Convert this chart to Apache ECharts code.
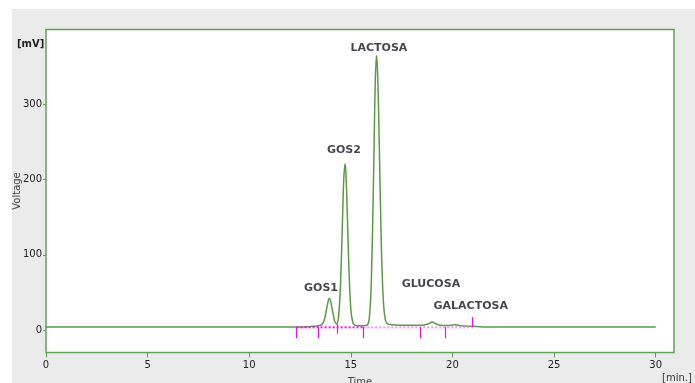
<!DOCTYPE html>
<html>
<head>
<meta charset="utf-8">
<script src="https://cdn.jsdelivr.net/npm/echarts@6/dist/echarts.min.js"></script>
<style>
  html, body { margin: 0; padding: 0; background: #fff; }
  #panel { position: absolute; left: 12px; top: 9px; width: 683px; height: 374px; background: #ebebeb; }
  #chart { position: absolute; left: 0; top: 0; width: 695px; height: 383px; }
</style>
</head>
<body>
<div id="panel"></div>
<div id="chart"></div>
<script>
// chromatogram trace (min, mV)
var times = [0, 12.3, 12.9, 13.2, 13.4, 13.5, 13.6, 13.7, 13.8, 13.9, 13.94, 14.0, 14.1, 14.2, 14.3,
    14.4, 14.5, 14.6, 14.65, 14.71, 14.75, 14.8, 14.9, 15.0, 15.1, 15.2, 15.4, 15.6, 15.8, 15.9,
    16.0, 16.1, 16.15, 16.2, 16.26, 16.3, 16.35, 16.4, 16.5, 16.6, 16.7, 16.8, 17.0, 17.4, 18.5,
    18.8, 19.0, 19.2, 19.4, 19.8, 20.1, 20.4, 21.0, 21.5, 30]
var volts = [4, 4, 4.3, 5, 5.6, 6.2, 8, 14, 27, 40, 42, 39, 25, 12, 8,
    19, 66, 158, 200, 221, 212, 178, 85, 27, 10, 6.5, 5.6, 5.6, 6.4, 14,
    58, 178, 258, 330, 365, 353, 310, 245, 112, 38, 13, 8.5, 6.8, 6.2, 6.2,
    8, 10.5, 8, 6.2, 5.8, 6.8, 5.6, 4.8, 4, 4]

// integration baseline and peak markers
var baseTimes = [12.33, 15.61, 20.99]
var baseLevel = 3.5
var tickTimes = [12.33, 13.39, 14.33, 15.61, 18.43, 19.66, 20.99]
var tickLo = [-11, -11, -5, -11, -11, -11, 4]
var tickHi = [4, 4, 8, 4, 4, 4, 17]

// peak names
var peakNames = ['GOS1', 'GOS2', 'LACTOSA', 'GLUCOSA', 'GALACTOSA']
var peakLabelX = [13.53, 14.66, 16.38, 18.94, 20.9]
var peakLabelY = [56, 239, 375, 61, 32]

var xTicks = [0, 5, 10, 15, 20, 25, 30]
var yTicks = [0, 100, 200, 300]

var chart = echarts.init(document.getElementById('chart'))

var tickPairs = tickTimes.map(function(t, i) {
    return [{ coord: [t, tickLo[i]] }, { coord: [t, tickHi[i]] }]
})

chart.setOption({
    animation: false,
    backgroundColor: 'transparent',
    textStyle: { fontFamily: 'DejaVu Sans' },
    grid: {
        left: 46, top: 29.5, right: 21, bottom: 30.5,
        outerBoundsMode: 'none',
        containLabel: false,
        show: true,
        backgroundColor: '#fff',
        borderColor: '#5fa352',
        borderWidth: 1.5
    },
    xAxis: {
        type: 'value',
        min: 0,
        max: 30.9,
        name: 'Time',
        nameLocation: 'middle',
        nameGap: 25,
        nameMoveOverlap: false,
        nameTextStyle: { color: '#444', fontSize: 10, verticalAlign: 'top' },
        axisLine: { show: false, onZero: false },
        splitLine: { show: false },
        axisTick: { show: true, length: 5, lineStyle: { color: '#5fa352' }, customValues: xTicks },
        axisLabel: { color: '#222', fontSize: 10, margin: 8, customValues: xTicks }
    },
    yAxis: {
        type: 'value',
        min: -30,
        max: 400,
        name: 'Voltage',
        nameLocation: 'middle',
        nameGap: 24,
        nameMoveOverlap: false,
        nameTextStyle: { color: '#444', fontSize: 10 },
        axisLine: { show: false, onZero: false },
        splitLine: { show: false },
        axisTick: { show: true, length: 3, lineStyle: { color: '#5fa352' }, customValues: yTicks },
        axisLabel: { color: '#222', fontSize: 10, margin: 4, customValues: yTicks }
    },
    graphic: [
        { type: 'text', left: 17, top: 39, style: { text: '[mV]', fontSize: 10, fontWeight: 'bold', fill: '#222', fontFamily: 'DejaVu Sans' } },
        { type: 'text', left: 662, top: 373, style: { text: '[min.]', fontSize: 10, fill: '#333', fontFamily: 'DejaVu Sans' } }
    ],
    series: [
        {
            type: 'line',
            data: times.map(function(t, i) { return [t, volts[i]] }),
            showSymbol: false,
            smooth: 0.3,
            lineStyle: { color: '#5a9a45', width: 1.5 },
            z: 3
        },
        {
            type: 'line',
            data: [[baseTimes[0], baseLevel], [baseTimes[1], baseLevel]],
            showSymbol: false,
            lineStyle: { color: '#ff00ff', width: 2, type: [2, 2] },
            z: 4
        },
        {
            type: 'line',
            data: [[baseTimes[1], baseLevel], [baseTimes[2], baseLevel]],
            showSymbol: false,
            lineStyle: { color: '#ff88ff', width: 2, type: [2, 2] },
            z: 4,
            markLine: {
                silent: true,
                symbol: 'none',
                label: { show: false },
                lineStyle: { color: '#ff00ff', width: 1.2, type: 'solid' },
                data: tickPairs
            }
        },
        {
            type: 'scatter',
            symbolSize: 0,
            data: peakNames.map(function(n, i) { return { name: n, value: [peakLabelX[i], peakLabelY[i]] } }),
            label: {
                show: true,
                position: 'inside',
                formatter: '{b}',
                color: '#15151f',
                fontSize: 11,
                fontWeight: 'bold',
                fontFamily: 'DejaVu Sans'
            },
            z: 5
        }
    ]
})
</script>
</body>
</html>
